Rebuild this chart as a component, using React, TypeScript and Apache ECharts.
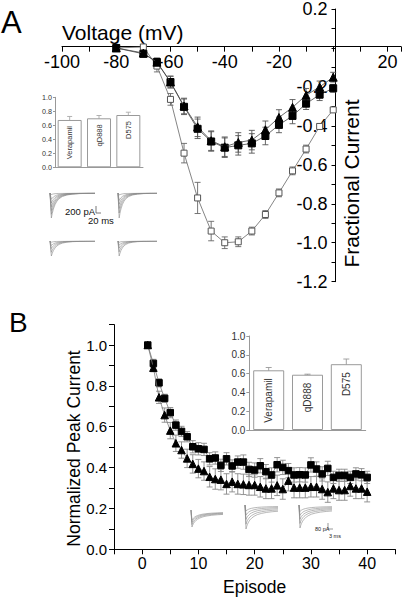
import React, { useEffect, useRef } from "react";
import * as echarts from "echarts";

const FONT = "'Liberation Sans', Arial, Helvetica, sans-serif";

// ---------- Panel A : current–voltage relation ----------
const voltage = [-80, -70, -65, -60, -55, -50, -45, -40, -35, -30, -25, -20, -15, -10, -5, 0];
const ivControl = [0, 0.005, -0.093, -0.264, -0.54, -0.77, -0.94, -1.0, -0.995, -0.94, -0.855, -0.744, -0.631, -0.519, -0.403, -0.318];
const ivControlErr = [0, 0.01, 0.03, 0.03, 0.05, 0.08, 0.05, 0.03, 0.025, 0.02, 0.02, 0.02, 0.02, 0.02, 0.015, 0.01];
const ivSquare = [0, -0.03, -0.072, -0.175, -0.302, -0.415, -0.48, -0.512, -0.5, -0.49, -0.452, -0.395, -0.349, -0.286, -0.24, -0.207];
const ivSquareErr = [0, 0.01, 0.02, 0.03, 0.04, 0.05, 0.05, 0.05, 0.05, 0.05, 0.045, 0.04, 0.04, 0.03, 0.03, 0.02];
const ivTriangle = [0, -0.026, -0.073, -0.175, -0.298, -0.405, -0.476, -0.507, -0.485, -0.473, -0.42, -0.357, -0.305, -0.243, -0.2, -0.15];
const ivTriangleErr = [0, 0.01, 0.02, 0.03, 0.04, 0.05, 0.05, 0.05, 0.05, 0.05, 0.045, 0.04, 0.04, 0.035, 0.03, 0.025];

// ---------- Inset bar charts ----------
const drugNames = ["Verapamil", "qD888", "D575"];
const blockA = [0.676, 0.7, 0.747];
const blockAErr = [0.05, 0.04, 0.04];
const blockB = [0.635, 0.588, 0.7];
const blockBErr = [0.03, 0.006, 0.055];

// ---------- Panel B : use-dependent block ----------
const episodes = [1, 2, 3, 4, 5, 6, 7, 8, 9, 10, 11, 12, 13, 14, 15, 16, 17, 18, 19, 20, 21, 22, 23, 24, 25, 26, 27, 28, 29, 30, 31, 32, 33, 34, 35, 36, 37, 38, 39, 40];
const useSquare = [1.0, 0.91, 0.815, 0.739, 0.669, 0.608, 0.577, 0.551, 0.502, 0.492, 0.489, 0.443, 0.447, 0.411, 0.443, 0.408, 0.427, 0.427, 0.391, 0.388, 0.409, 0.38, 0.364, 0.414, 0.401, 0.385, 0.364, 0.365, 0.364, 0.413, 0.393, 0.369, 0.396, 0.352, 0.362, 0.362, 0.352, 0.369, 0.365, 0.352];
const useSquareErr = [0, 0.02, 0.02, 0.02, 0.025, 0.025, 0.025, 0.025, 0.03, 0.03, 0.03, 0.03, 0.03, 0.03, 0.03, 0.03, 0.03, 0.035, 0.035, 0.035, 0.035, 0.035, 0.035, 0.035, 0.035, 0.035, 0.035, 0.035, 0.035, 0.035, 0.035, 0.035, 0.035, 0.03, 0.03, 0.03, 0.03, 0.03, 0.03, 0.03];
const useTriangle = [1.0, 0.889, 0.744, 0.657, 0.581, 0.519, 0.486, 0.445, 0.418, 0.395, 0.383, 0.355, 0.344, 0.341, 0.32, 0.331, 0.32, 0.318, 0.315, 0.315, 0.306, 0.298, 0.298, 0.313, 0.295, 0.336, 0.302, 0.302, 0.302, 0.306, 0.306, 0.295, 0.28, 0.298, 0.29, 0.29, 0.31, 0.298, 0.298, 0.282];
const useTriangleErr = [0, 0.02, 0.03, 0.035, 0.04, 0.04, 0.04, 0.045, 0.045, 0.045, 0.045, 0.05, 0.05, 0.05, 0.05, 0.05, 0.05, 0.05, 0.05, 0.05, 0.05, 0.05, 0.05, 0.05, 0.05, 0.05, 0.05, 0.05, 0.05, 0.05, 0.05, 0.05, 0.05, 0.05, 0.05, 0.05, 0.05, 0.05, 0.05, 0.05];

// ---------- Example current traces (shapes) ----------
const traceTime = [0, 0.6, 1.2, 2, 3, 4.5, 6, 8, 11, 15, 20, 26, 33, 40];
const traceFast = [0, 0, -1, -0.82, -0.64, -0.46, -0.34, -0.23, -0.14, -0.08, -0.045, -0.025, -0.012, -0.005];
const traceSlow = [0, 0, -1, -0.9, -0.8, -0.7, -0.62, -0.55, -0.47, -0.4, -0.35, -0.31, -0.28, -0.26];
const ampATopLeft = [1, 0.85, 0.7, 0.55, 0.4, 0.25, 0.06];
const ampATopRight = [1, 0.8, 0.62, 0.45, 0.3, 0.08];
const ampABottomLeft = [1, 0.75, 0.5, 0.3, 0.08];
const ampABottomRight = [1, 0.72, 0.48, 0.28, 0.08];
const ampB1 = [1, 0.85, 0.72, 0.6];
const ampB2 = [1, 0.8, 0.6, 0.42, 0.25];
const ampB3 = [1, 0.8, 0.62, 0.45, 0.28];

function errorSeries(xi: number, yi: number, xs: any[], ys: number[], es: number[], color: string, cap: number) {
  return {
    type: "custom",
    xAxisIndex: xi,
    yAxisIndex: yi,
    z: 1,
    silent: true,
    clip: false,
    encode: { x: 0, y: 1 },
    data: xs.map((x, i) => [x, ys[i], es[i]]),
    renderItem: (_params: any, api: any) => {
      const x = api.value(0);
      const y = api.value(1);
      const e = api.value(2);
      if (!e) return { type: "group", children: [] };
      const top = api.coord([x, y + e]);
      const bot = api.coord([x, y - e]);
      const style = { stroke: color, lineWidth: 0.9 };
      return {
        type: "group",
        children: [
          { type: "line", shape: { x1: top[0], y1: top[1], x2: bot[0], y2: bot[1] }, style },
          { type: "line", shape: { x1: top[0] - cap, y1: top[1], x2: top[0] + cap, y2: top[1] }, style },
          { type: "line", shape: { x1: bot[0] - cap, y1: bot[1], x2: bot[0] + cap, y2: bot[1] }, style },
        ],
      };
    },
  };
}

function lineSeries(xi: number, yi: number, xs: number[], ys: number[], symbol: string, size: number, fill: string, lineColor: string, z: number) {
  return {
    type: "line",
    xAxisIndex: xi,
    yAxisIndex: yi,
    data: xs.map((x, i) => [x, ys[i]]),
    symbol,
    symbolSize: size,
    showSymbol: true,
    z,
    itemStyle: { color: fill, borderColor: fill === "#fff" ? "#555" : "#000", borderWidth: 1 },
    lineStyle: { color: lineColor, width: 0.8 },
    emphasis: { disabled: true },
  };
}

function traceSeries(idx: number, amps: number[], shape: number[], color: string) {
  return amps.map((a) => ({
    type: "line",
    xAxisIndex: idx,
    yAxisIndex: idx,
    data: traceTime.map((t, i) => [t, a * shape[i]]),
    showSymbol: false,
    symbol: "none",
    lineStyle: { color, width: 0.6 },
    silent: true,
    z: 2,
  }));
}

function barSeries(idx: number, values: number[], fontSize: number, dist: number) {
  return {
    type: "bar",
    xAxisIndex: idx,
    yAxisIndex: idx,
    data: values,
    barWidth: idx === 1 ? 24 : 31,
    itemStyle: { color: "#fff", borderColor: "#9a9a9a", borderWidth: 1 },
    label: {
      show: true,
      formatter: "{b}",
      position: "insideTop",
      rotate: 90,
      align: "right",
      verticalAlign: "middle",
      distance: dist,
      fontSize,
      color: "#333",
      fontFamily: FONT,
    },
    silent: true,
    z: 1,
  };
}

const hiddenAxis = (gridIndex: number, min: number, max: number) => ({
  type: "value",
  gridIndex,
  min,
  max,
  show: false,
});

export default function App() {
  const ref = useRef<HTMLDivElement>(null);

  useEffect(() => {
    if (!ref.current) return;
    const chart = echarts.init(ref.current, undefined, { renderer: "svg" });

    const aLeft = 62;
    const aWidth = 341.9;
    const aTop = 7.5;
    const aHeight = 274.2;
    const grids = [
      { left: aLeft, top: aTop, width: aWidth, height: aHeight }, // 0 A main
      { left: 55, top: 97.3, width: 88, height: 70 }, // 1 A bars
      { left: 50, top: 193, width: 45, height: 25 }, // 2 A trace TL
      { left: 118, top: 193, width: 39, height: 25 }, // 3 A trace TR
      { left: 50, top: 241, width: 45, height: 15 }, // 4 A trace BL
      { left: 118, top: 241, width: 39, height: 15 }, // 5 A trace BR
      { left: 114, top: 324.6, width: 281.3, height: 224.7 }, // 6 B main
      { left: 249.3, top: 336, width: 116.4, height: 94 }, // 7 B bars
      { left: 191, top: 510, width: 32, height: 17 }, // 8 B trace 1
      { left: 245, top: 505, width: 33, height: 24 }, // 9 B trace 2
      { left: 299, top: 505, width: 33, height: 23 }, // 10 B trace 3
    ];
    // Panel A axes cross at (0 mV, 0)
    const yZeroOffset = -((0 - -100) / (25 - -100)) * aWidth;
    const xZeroOffset = -((0 - -1.2) / (0.2 - -1.2)) * aHeight;

    const black = { color: "#000", width: 1 };

    const xAxis: any[] = [
      {
        type: "value",
        gridIndex: 0,
        position: "bottom",
        min: -100,
        max: 25,
        interval: 10,
        offset: xZeroOffset,
        axisLine: { onZero: false, lineStyle: black },
        axisTick: { show: true, length: 5, lineStyle: black },
        axisLabel: {
          fontSize: 18,
          margin: 6,
          color: "#000",
          fontFamily: FONT,
          formatter: (v: number) => {
            const r = Math.round(v);
            return r !== 0 && r % 20 === 0 ? String(r) : "";
          },
        },
        splitLine: { show: false },
      },
      {
        type: "category",
        gridIndex: 1,
        data: drugNames,
        axisLine: { lineStyle: { color: "#999", width: 1 } },
        axisTick: { show: false },
        axisLabel: { show: false },
      },
      hiddenAxis(2, 0, 40),
      hiddenAxis(3, 0, 40),
      hiddenAxis(4, 0, 40),
      hiddenAxis(5, 0, 40),
      {
        type: "value",
        gridIndex: 6,
        min: -5,
        max: 45,
        interval: 5,
        name: "Episode",
        nameLocation: "middle",
        nameGap: 29,
        nameTextStyle: { fontSize: 17.5, color: "#000", fontFamily: FONT },
        axisLine: { onZero: false, lineStyle: black },
        axisTick: { show: true, length: 5, lineStyle: black },
        axisLabel: {
          fontSize: 16,
          margin: 6,
          color: "#000",
          fontFamily: FONT,
          formatter: (v: number) => {
            const r = Math.round(v);
            return r % 10 === 0 && r >= 0 && r <= 40 ? String(r) : "";
          },
        },
        splitLine: { show: false },
      },
      {
        type: "category",
        gridIndex: 7,
        data: drugNames,
        axisLine: { lineStyle: { color: "#999", width: 1 } },
        axisTick: { show: false },
        axisLabel: { show: false },
      },
      hiddenAxis(8, 0, 40),
      hiddenAxis(9, 0, 40),
      hiddenAxis(10, 0, 40),
    ];

    const insetY = (gridIndex: number, fontSize: number, margin: number, tick: number) => ({
      type: "value",
      gridIndex,
      min: 0,
      max: 1,
      interval: 0.2,
      axisLine: { show: true, lineStyle: { color: "#999", width: 1 } },
      axisTick: { show: true, length: tick, lineStyle: { color: "#999" } },
      axisLabel: {
        fontSize,
        margin,
        color: "#333",
        fontFamily: FONT,
        formatter: (v: number) => v.toFixed(1),
      },
      splitLine: { show: false },
    });

    const yAxis: any[] = [
      {
        type: "value",
        gridIndex: 0,
        position: "left",
        min: -1.2,
        max: 0.2,
        interval: 0.1,
        offset: yZeroOffset,
        axisLine: { onZero: false, lineStyle: black },
        axisTick: { show: true, length: 4, lineStyle: black },
        axisLabel: {
          fontSize: 18,
          margin: 8,
          color: "#000",
          fontFamily: FONT,
          formatter: (v: number) => {
            const k = Math.round(v * 10);
            return k !== 0 && k % 2 === 0 ? (k / 10).toFixed(1) : "";
          },
        },
        splitLine: { show: false },
      },
      insetY(1, 7.2, 3, 2),
      hiddenAxis(2, -1, 0),
      hiddenAxis(3, -1, 0),
      hiddenAxis(4, -1, 0),
      hiddenAxis(5, -1, 0),
      {
        type: "value",
        gridIndex: 6,
        min: 0,
        max: 1.1,
        interval: 0.1,
        axisLine: { onZero: false, lineStyle: black },
        axisTick: { show: true, length: 5, lineStyle: black },
        axisLabel: {
          fontSize: 15,
          margin: 7,
          color: "#000",
          fontFamily: FONT,
          formatter: (v: number) => {
            const k = Math.round(v * 10);
            return k % 2 === 0 && k <= 10 ? (k / 10).toFixed(1) : "";
          },
        },
        splitLine: { show: false },
      },
      insetY(7, 10, 4, 3),
      hiddenAxis(8, -1, 0),
      hiddenAxis(9, -1, 0),
      hiddenAxis(10, -1, 0),
    ];

    const idx = [0, 1, 2];
    const series: any[] = [
      // Panel A main
      errorSeries(0, 0, voltage, ivControl, ivControlErr, "#666", 3),
      errorSeries(0, 0, voltage, ivSquare, ivSquareErr, "#555", 3),
      errorSeries(0, 0, voltage, ivTriangle, ivTriangleErr, "#555", 3),
      lineSeries(0, 0, voltage, ivControl, "rect", 6, "#fff", "#666", 3),
      lineSeries(0, 0, voltage, ivSquare, "rect", 7, "#000", "#444", 4),
      lineSeries(0, 0, voltage, ivTriangle, "triangle", 8, "#000", "#444", 5),
      // Panel A inset bars
      barSeries(1, blockA, 7.5, 6),
      errorSeries(1, 1, idx, blockA, blockAErr, "#aaa", 2.5),
      // Panel A traces
      ...traceSeries(2, ampATopLeft, traceFast, "#8a8a8a"),
      ...traceSeries(3, ampATopRight, traceFast, "#8a8a8a"),
      ...traceSeries(4, ampABottomLeft, traceFast, "#8a8a8a"),
      ...traceSeries(5, ampABottomRight, traceFast, "#8a8a8a"),
      // Panel B main
      errorSeries(6, 6, episodes, useSquare, useSquareErr, "#888", 3),
      errorSeries(6, 6, episodes, useTriangle, useTriangleErr, "#888", 3),
      lineSeries(6, 6, episodes, useSquare, "rect", 6.5, "#000", "#777", 4),
      lineSeries(6, 6, episodes, useTriangle, "triangle", 7.5, "#000", "#777", 5),
      // Panel B inset bars
      barSeries(7, blockB, 10, 8),
      errorSeries(7, 7, idx, blockB, blockBErr, "#999", 3),
      // Panel B traces
      ...traceSeries(8, ampB1, traceSlow, "#8a8a8a"),
      ...traceSeries(9, ampB2, traceSlow, "#8a8a8a"),
      ...traceSeries(10, ampB3, traceSlow, "#8a8a8a"),
    ];

    const graphic: any[] = [
      { type: "text", style: { x: 1, y: 22, text: "A", fontSize: 31, fill: "#000", fontFamily: FONT, verticalAlign: "middle" } },
      { type: "text", style: { x: 9, y: 322, text: "B", fontSize: 28, fill: "#000", fontFamily: FONT, verticalAlign: "middle" } },
      { type: "text", style: { x: 62, y: 32.6, text: "Voltage (mV)", fontSize: 21, fill: "#000", fontFamily: FONT, verticalAlign: "middle" } },
      {
        type: "text",
        x: 351.6,
        y: 183.5,
        rotation: Math.PI / 2,
        style: { x: 0, y: 0, text: "Fractional Current", fontSize: 21, fill: "#000", fontFamily: FONT, align: "center", verticalAlign: "middle" },
      },
      {
        type: "text",
        x: 73.7,
        y: 448.5,
        rotation: Math.PI / 2,
        style: { x: 0, y: 0, text: "Normalized Peak Current", fontSize: 17.5, fill: "#000", fontFamily: FONT, align: "center", verticalAlign: "middle" },
      },
      // scale bar panel A
      { type: "polyline", shape: { points: [[96, 206], [96, 213], [101, 213]] }, style: { stroke: "#555", lineWidth: 0.8, fill: "none" } },
      { type: "text", style: { x: 65, y: 211, text: "200 pA", fontSize: 9.5, fill: "#111", fontFamily: FONT, verticalAlign: "middle" } },
      { type: "text", style: { x: 88, y: 220, text: "20 ms", fontSize: 9.5, fill: "#111", fontFamily: FONT, verticalAlign: "middle" } },
      // scale bar panel B
      { type: "polyline", shape: { points: [[328, 523], [328, 529], [333, 529]] }, style: { stroke: "#555", lineWidth: 0.6, fill: "none" } },
      { type: "text", style: { x: 315, y: 529, text: "80 pA", fontSize: 5.5, fill: "#222", fontFamily: FONT, verticalAlign: "middle" } },
      { type: "text", style: { x: 329, y: 535.5, text: "3 ms", fontSize: 5.5, fill: "#222", fontFamily: FONT, verticalAlign: "middle" } },
    ];

    chart.setOption({
      animation: false,
      backgroundColor: "#fff",
      textStyle: { fontFamily: FONT },
      grid: grids,
      xAxis,
      yAxis,
      series,
      graphic,
    });

    return () => chart.dispose();
  }, []);

  return <div ref={ref} style={{ position: "absolute", left: 0, top: 0, width: 404, height: 598 }} />;
}
